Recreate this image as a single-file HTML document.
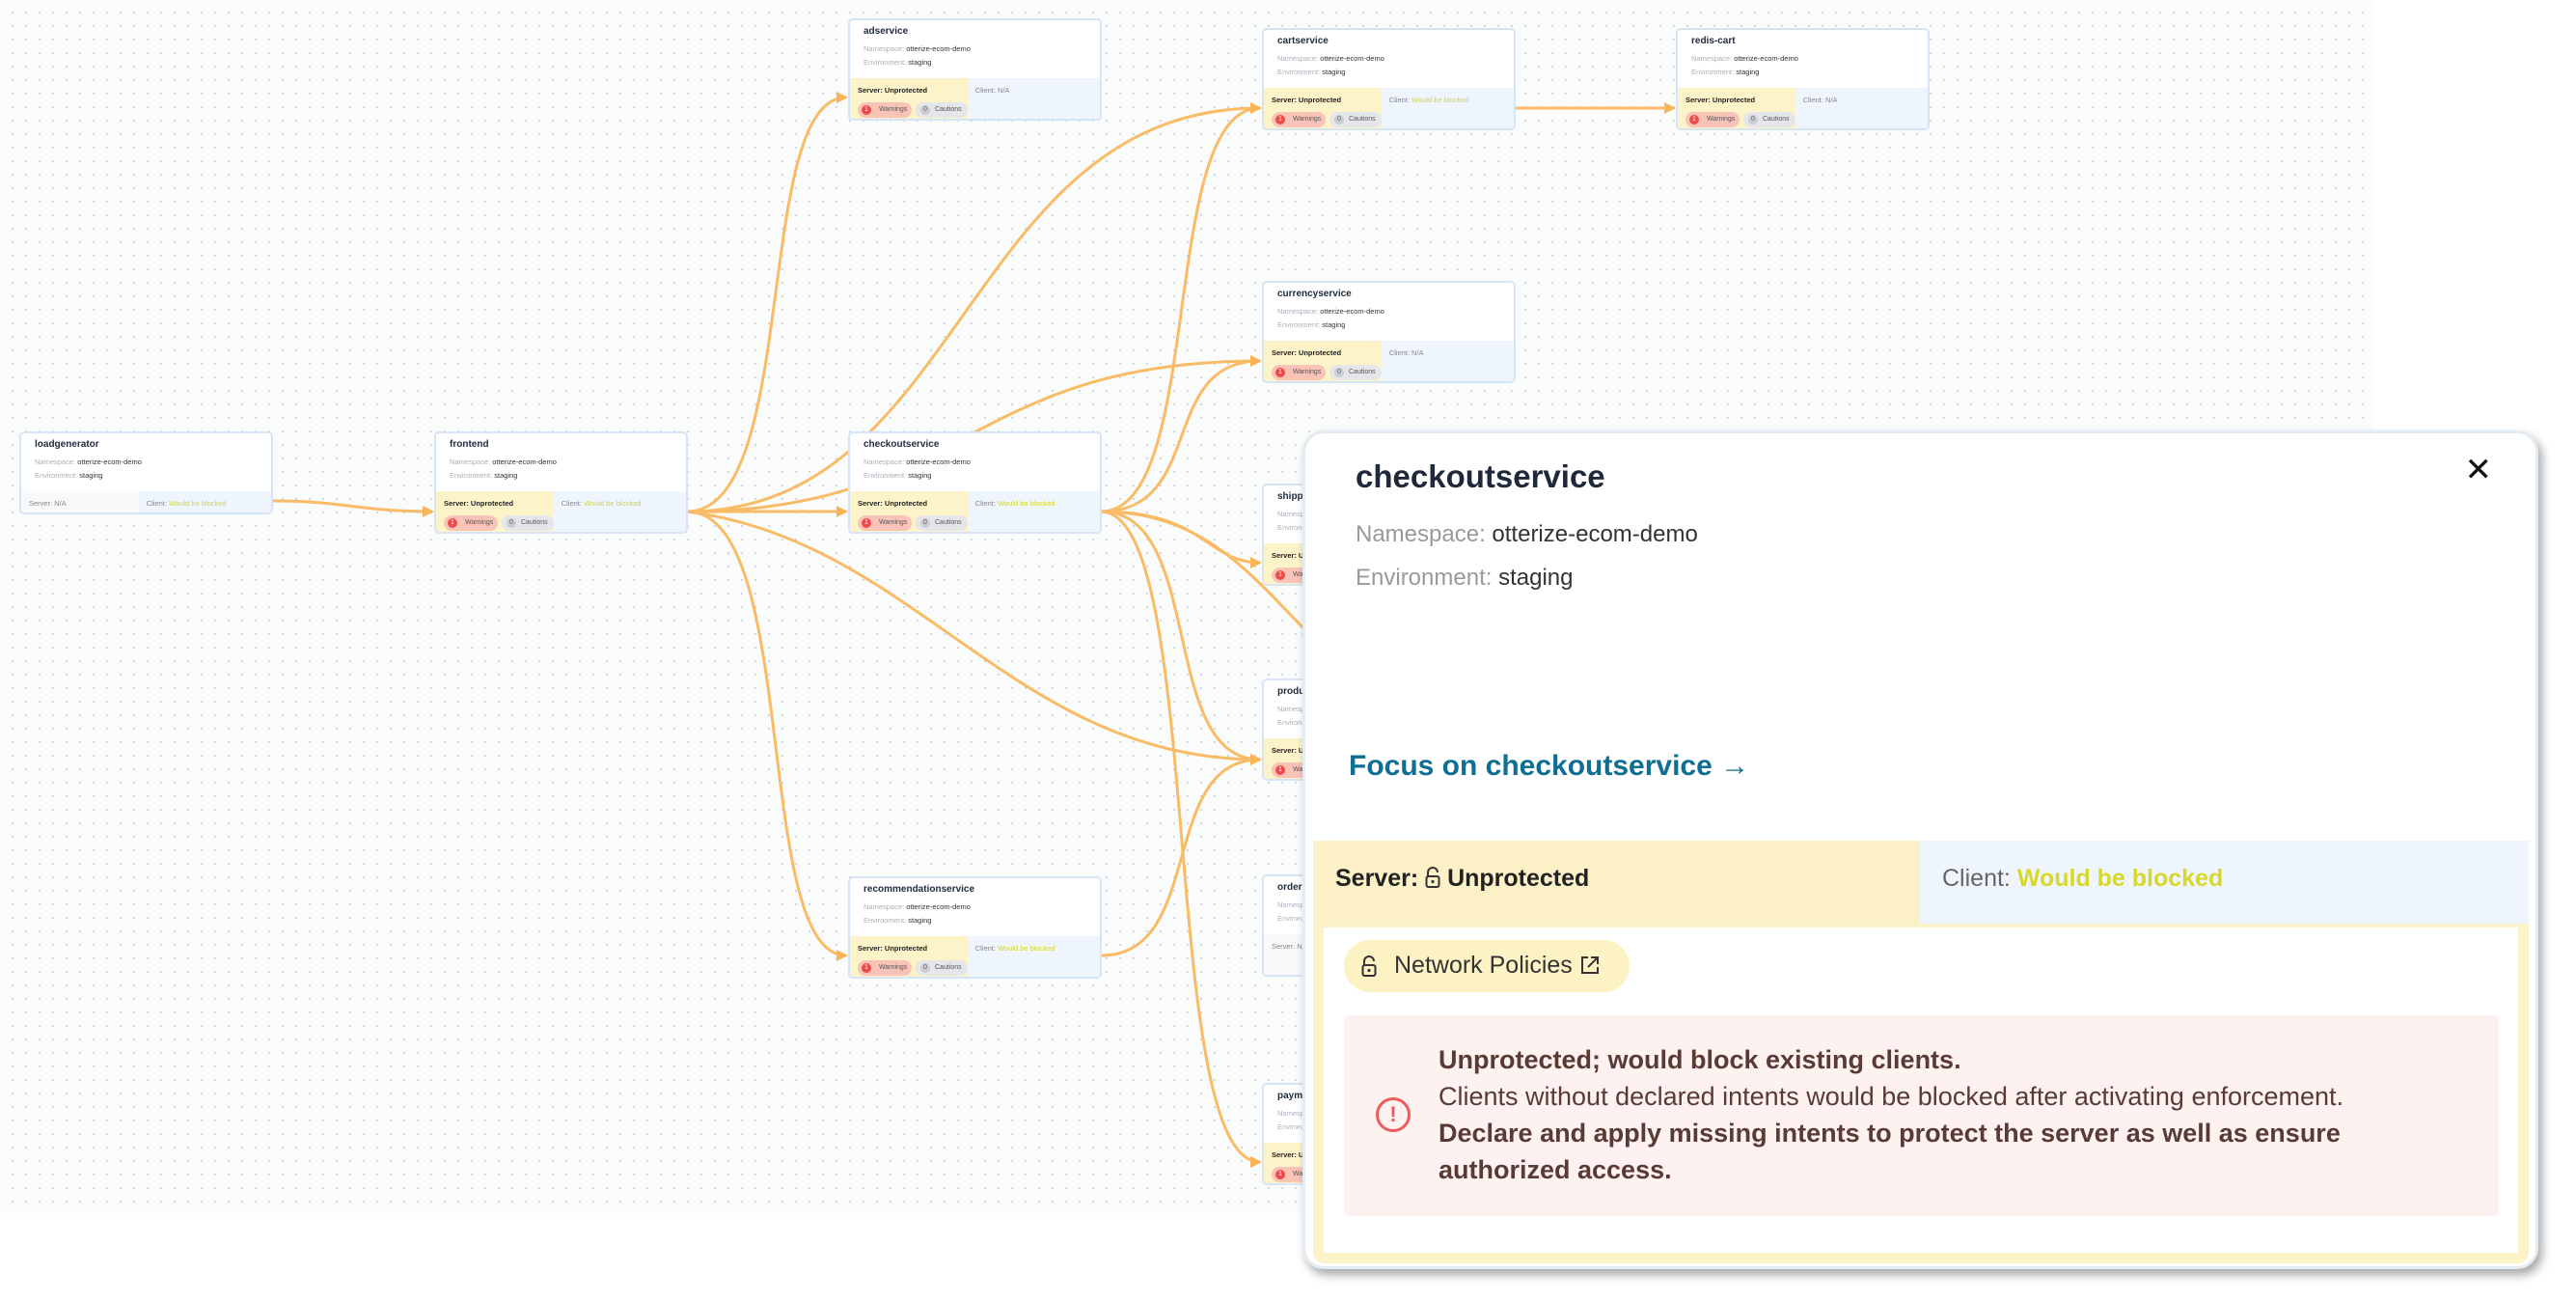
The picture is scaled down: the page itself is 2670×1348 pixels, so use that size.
<!DOCTYPE html>
<html><head><meta charset="utf-8"><style>
*{box-sizing:border-box;margin:0;padding:0}
body{width:2670px;height:1348px;background:#fff;position:relative;overflow:hidden;font-family:"Liberation Sans",sans-serif}
#bg{position:absolute;left:0;top:0;width:2461px;height:1257px;background-color:#fafbfb;background-image:radial-gradient(circle,#cfd5dc 1px,transparent 1.3px);background-size:14px 14px;background-position:6px 6px}
.n{position:absolute;width:263px;height:106px;background:#fff;border:2px solid #d6e4f8;border-radius:5px;overflow:hidden}
.n .t{position:absolute;left:14px;top:6px;font-size:10px;font-weight:bold;color:#1f2a3c}
.n .m{position:absolute;left:14px;font-size:7.5px;color:#aab0b8}
.n .m b{font-weight:normal;color:#333}
.n .bl{position:absolute;left:0;top:60px;width:47%;height:46px;background:#fdf3c9}
.n .br{position:absolute;left:47%;top:60px;right:0;height:46px;background:#eef5fd}
.n .s{position:absolute;left:8px;top:8px;font-size:7.5px;font-weight:bold;color:#222}
.n .c{position:absolute;left:8px;top:8px;font-size:7.5px;color:#888}
.n .c span{color:#d5d62e}
.bw{position:absolute;left:8px;top:25px;width:56px;height:16px;border-radius:8px;background:#f9c3b8;font-size:7px;color:#555;padding:4px 0 0 22px}
.bw:before{content:"1";position:absolute;left:4px;top:3px;width:10px;height:10px;border-radius:5px;background:#ef4a4a;color:#fff;font-size:7px;text-align:center;line-height:10px}
.bc{position:absolute;left:68px;top:25px;width:54px;height:16px;border-radius:8px;background:#e4e6ea;font-size:7px;color:#555;padding:4px 0 0 20px}
.bc:before{content:"0";position:absolute;left:5px;top:3px;width:10px;height:10px;border-radius:5px;background:#c9ccd2;color:#666;font-size:7px;text-align:center;line-height:10px}
#p{position:absolute;left:1350px;top:446px;width:1281px;height:869px;background:#fff;border:3px solid #e3ebf3;border-radius:22px;box-shadow:4px 6px 10px rgba(0,0,0,.35);overflow:hidden}
</style></head><body>
<div id="bg"></div>
<svg width="2670" height="1348" style="position:absolute;left:0;top:0">
<defs><marker id="a" markerWidth="12" markerHeight="12" refX="10" refY="6" orient="auto" markerUnits="userSpaceOnUse"><path d="M0,0 L12,6 L0,12 z" fill="#f9b45a"/></marker></defs>
<g fill="none" stroke="#f9bb66" stroke-width="3" marker-end="url(#a)">
<path d="M283,519 C360,519 370,530 448,530"/>
<path d="M712,530 C830,530 780,101 877,101"/>
<path d="M712,530 C780,530 820,530 877,530"/>
<path d="M712,530 C830,530 780,990 877,990"/>
<path d="M712,530 C1000,530 1000,112 1306,112"/>
<path d="M712,530 C1000,530 1000,374 1306,374"/>
<path d="M712,530 C950,560 1050,787 1306,787"/>
<path d="M1141,530 C1250,530 1200,112 1306,112"/>
<path d="M1141,530 C1250,530 1200,374 1306,374"/>
<path d="M1141,530 C1250,530 1250,583 1306,583"/>
<path d="M1141,530 C1250,530 1200,787 1306,787"/>
<path d="M1141,530 C1250,530 1200,1204 1306,1204"/>
<path d="M1141,530 C1250,530 1300,600 1360,660"/>
<path d="M1141,990 C1250,990 1200,787 1306,787"/>
<path d="M1570,112 C1650,112 1660,112 1735,112"/>
</g></svg>

<div class="n" style="left:20px;top:447px;height:86px"><div class="t">loadgenerator</div><div class="m" style="top:25px">Namespace: <b>otterize-ecom-demo</b></div><div class="m" style="top:39px">Environment: <b>staging</b></div><div class="bl" style="background:#f7f9fb;height:26px;"><div class="c">Server: N/A</div></div><div class="br" style="height:26px"><div class="c">Client: <span>Would be blocked</span></div></div></div>

<div class="n" style="left:450px;top:447px"><div class="t">frontend</div><div class="m" style="top:25px">Namespace: <b>otterize-ecom-demo</b></div><div class="m" style="top:39px">Environment: <b>staging</b></div><div class="bl"><div class="s">Server: Unprotected</div><div class="bw">Warnings</div><div class="bc">Cautions</div></div><div class="br"><div class="c">Client: <span>Would be blocked</span></div></div></div>

<div class="n" style="left:879px;top:19px"><div class="t">adservice</div><div class="m" style="top:25px">Namespace: <b>otterize-ecom-demo</b></div><div class="m" style="top:39px">Environment: <b>staging</b></div><div class="bl"><div class="s">Server: Unprotected</div><div class="bw">Warnings</div><div class="bc">Cautions</div></div><div class="br"><div class="c">Client: N/A</div></div></div>

<div class="n" style="left:879px;top:447px"><div class="t">checkoutservice</div><div class="m" style="top:25px">Namespace: <b>otterize-ecom-demo</b></div><div class="m" style="top:39px">Environment: <b>staging</b></div><div class="bl"><div class="s">Server: Unprotected</div><div class="bw">Warnings</div><div class="bc">Cautions</div></div><div class="br"><div class="c">Client: <span>Would be blocked</span></div></div></div>

<div class="n" style="left:879px;top:908px"><div class="t">recommendationservice</div><div class="m" style="top:25px">Namespace: <b>otterize-ecom-demo</b></div><div class="m" style="top:39px">Environment: <b>staging</b></div><div class="bl"><div class="s">Server: Unprotected</div><div class="bw">Warnings</div><div class="bc">Cautions</div></div><div class="br"><div class="c">Client: <span>Would be blocked</span></div></div></div>

<div class="n" style="left:1308px;top:29px"><div class="t">cartservice</div><div class="m" style="top:25px">Namespace: <b>otterize-ecom-demo</b></div><div class="m" style="top:39px">Environment: <b>staging</b></div><div class="bl"><div class="s">Server: Unprotected</div><div class="bw">Warnings</div><div class="bc">Cautions</div></div><div class="br"><div class="c">Client: <span>Would be blocked</span></div></div></div>

<div class="n" style="left:1737px;top:29px"><div class="t">redis-cart</div><div class="m" style="top:25px">Namespace: <b>otterize-ecom-demo</b></div><div class="m" style="top:39px">Environment: <b>staging</b></div><div class="bl"><div class="s">Server: Unprotected</div><div class="bw">Warnings</div><div class="bc">Cautions</div></div><div class="br"><div class="c">Client: N/A</div></div></div>

<div class="n" style="left:1308px;top:291px"><div class="t">currencyservice</div><div class="m" style="top:25px">Namespace: <b>otterize-ecom-demo</b></div><div class="m" style="top:39px">Environment: <b>staging</b></div><div class="bl"><div class="s">Server: Unprotected</div><div class="bw">Warnings</div><div class="bc">Cautions</div></div><div class="br"><div class="c">Client: N/A</div></div></div>

<div class="n" style="left:1308px;top:501px"><div class="t">shippingservice</div><div class="m" style="top:25px">Namespace</div><div class="m" style="top:39px">Environment</div><div class="bl"><div class="s">Server: U</div><div class="bw">Warnings</div></div></div>
<div class="n" style="left:1308px;top:703px"><div class="t">productcatalog</div><div class="m" style="top:25px">Namespace</div><div class="m" style="top:39px">Environment</div><div class="bl"><div class="s">Server: U</div><div class="bw">Warnings</div></div></div>
<div class="n" style="left:1308px;top:906px"><div class="t">orderservice</div><div class="m" style="top:25px">Namespace</div><div class="m" style="top:39px">Environment</div><div class="bl" style="background:#f7f9fb"><div class="c">Server: N/A</div></div></div>
<div class="n" style="left:1308px;top:1122px"><div class="t">paymentservice</div><div class="m" style="top:25px">Namespace</div><div class="m" style="top:39px">Environment</div><div class="bl"><div class="s">Server: U</div><div class="bw">Warnings</div></div></div>

<div id="p">
<div style="position:absolute;left:52px;top:26px;font-size:33px;font-weight:bold;color:#1e2a3b">checkoutservice</div>
<div style="position:absolute;right:45px;top:18px;font-size:34px;color:#111">&#x2715;</div>
<div style="position:absolute;left:52px;top:91px;font-size:24px;color:#999">Namespace: <span style="color:#333">otterize-ecom-demo</span></div>
<div style="position:absolute;left:52px;top:136px;font-size:24px;color:#999">Environment: <span style="color:#333">staging</span></div>
<div style="position:absolute;left:45px;top:328px;font-size:30px;font-weight:bold;color:#0f6e93">Focus on checkoutservice &#x2192;</div>
<div style="position:absolute;left:8px;top:422px;width:629px;height:86px;background:#fcf1c6"></div>
<div style="position:absolute;left:637px;top:422px;width:631px;height:86px;background:#eef5fd"></div>
<div style="position:absolute;left:31px;top:447px;font-size:25px;font-weight:bold;color:#222">Server: <svg width="16" height="22" viewBox="0 0 16 22" style="vertical-align:-2px"><path d="M3,10 V6 a5,5 0 0 1 10,0" fill="none" stroke="#333" stroke-width="2"/><rect x="1.5" y="10" width="13" height="11" rx="2" fill="none" stroke="#333" stroke-width="2"/><circle cx="8" cy="15.5" r="1.6" fill="#333"/></svg> Unprotected</div>
<div style="position:absolute;left:660px;top:447px;font-size:25px;color:#666">Client: <span style="color:#d8d82c;font-weight:bold">Would be blocked</span></div>
<div style="position:absolute;left:8px;top:508px;width:1260px;height:352px;background:#fff;border:11px solid #fdf3c8;border-top-width:4px;border-radius:0 0 12px 12px"></div>
<div style="position:absolute;left:40px;top:525px;width:296px;height:54px;border-radius:27px;background:#fdf2c4;font-size:25px;color:#333;padding:12px 0 0 52px">Network Policies <svg width="22" height="22" viewBox="0 0 22 22" style="vertical-align:-3px"><path d="M9,3 H3 V19 H19 V13" fill="none" stroke="#333" stroke-width="2"/><path d="M12,3 H19 V10 M19,3 L9,13" fill="none" stroke="#333" stroke-width="2"/></svg></div>
<svg width="16" height="24" viewBox="0 0 16 22" style="position:absolute;left:58px;top:540px"><path d="M3,10 V6 a5,5 0 0 1 10,0" fill="none" stroke="#333" stroke-width="2"/><rect x="1.5" y="10" width="13" height="11" rx="2" fill="none" stroke="#333" stroke-width="2"/><circle cx="8" cy="15.5" r="1.6" fill="#333"/></svg>
<div style="position:absolute;left:40px;top:603px;width:1197px;height:208px;border-radius:6px;background:#fdf2f0"></div>
<div style="position:absolute;left:73px;top:688px;width:36px;height:36px;border:3px solid #ef5a5a;border-radius:50%;color:#ef5a5a;font-size:22px;font-weight:bold;text-align:center;line-height:30px">!</div>
<div style="position:absolute;left:138px;top:630px;width:1030px;font-size:27px;line-height:38px;color:#5a3a35"><b>Unprotected; would block existing clients.</b><br>Clients without declared intents would be blocked after activating enforcement.<br><b>Declare and apply missing intents to protect the server as well as ensure authorized access.</b></div>
</div>
</body></html>
